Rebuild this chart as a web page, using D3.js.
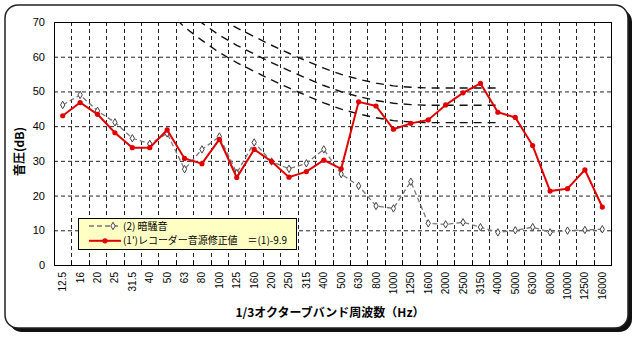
<!DOCTYPE html>
<html>
<head>
<meta charset="utf-8">
<script src="https://cdn.jsdelivr.net/npm/d3@7"></script>
<style>
  html, body { margin: 0; padding: 0; background: #fff; }
  svg { display: block; }
</style>
</head>
<body>
<svg id="chart" width="640" height="339"></svg>
<script>
// 1/3 octave band centre frequencies (Hz)
const bands = ["12.5","16","20","25","31.5","40","50","63","80","100","125","160","200","250","315","400","500","630","800","1000","1250","1600","2000","2500","3150","4000","5000","6300","8000","10000","12500","16000"];

// (2) background noise, dB
const backgroundNoise = [46.1,49.0,44.4,41.1,36.5,34.9,37.9,27.6,33.3,37.0,26.5,35.3,29.8,27.7,29.3,33.3,26.2,22.8,17.0,16.3,24.0,12.0,11.7,12.3,10.9,9.4,10.0,10.9,9.4,9.9,10.1,10.3];

// (1') recorder source, corrected = (1) - 9.9, dB
const recorderCorrected = [43.0,46.8,43.4,38.1,33.8,33.8,38.9,30.7,29.2,36.2,25.2,33.3,29.8,25.3,26.9,30.2,27.7,47.0,45.8,39.1,40.8,41.8,46.1,49.6,52.3,44.0,42.5,34.4,21.3,22.0,27.4,16.7];

// reference rating curves (dashed), 50 Hz - 4000 Hz
const curveBands = ["50","63","80","100","125","160","200","250","315","400","500","630","800","1000","1250","1600","2000","2500","3150","4000"];
const curveLow  = [73.5,68.5,64.7,61.2,58.3,55.8,53.3,51.0,48.8,46.7,44.9,43.5,42.4,41.6,41.2,41.0,41.0,41.0,41.0,41.0];
const curveMid  = [78.5,73.5,69.7,66.2,63.3,60.8,58.3,56.0,53.8,51.7,49.9,48.5,47.4,46.6,46.2,46.0,46.0,46.0,46.0,46.0];
const curveHigh = [83.5,78.5,74.7,71.2,68.3,65.8,63.3,61.0,58.8,56.7,54.9,53.5,52.4,51.6,51.2,51.0,51.0,51.0,51.0,51.0];

const yTicks = [0,10,20,30,40,50,60,70];

const legendItems = [
  { label: "(2) 暗騒音", kind: "noise", width: null },
  { label: "(1')レコーダー音源修正値　＝(1)-9.9", kind: "recorder", width: 164 }
];

const svg = d3.select("#chart");
const plot = { left: 54, right: 611, top: 22, bottom: 265 };

// outer rounded frame with drop shadow
svg.append("rect").attr("x", 9).attr("y", 9).attr("width", 623).attr("height", 323)
  .attr("rx", 13).attr("fill", "#111");
svg.append("rect").attr("x", 5).attr("y", 5).attr("width", 623).attr("height", 323)
  .attr("rx", 13).attr("fill", "#fff").attr("stroke", "#222").attr("stroke-width", 1.5);

const x = d3.scaleBand().domain(bands).range([plot.left, plot.right]).padding(0);
const y = d3.scaleLinear().domain([0, 70]).range([plot.bottom, plot.top]);
const cx = b => x(b) + x.bandwidth() / 2;

svg.append("defs").append("clipPath").attr("id", "plotClip")
  .append("rect").attr("x", plot.left).attr("y", plot.top)
  .attr("width", plot.right - plot.left).attr("height", plot.bottom - plot.top);

// gridlines
const grid = svg.append("g").attr("stroke", "#222").attr("stroke-width", 1).attr("stroke-dasharray", "4,3");
grid.selectAll("line.h").data(yTicks.slice(1, -1)).join("line")
  .attr("x1", plot.left).attr("x2", plot.right)
  .attr("y1", d => y(d) + 0.5).attr("y2", d => y(d) + 0.5);
grid.selectAll("line.v").data(bands.slice(1)).join("line")
  .attr("x1", d => Math.round(x(d)) + 0.5).attr("x2", d => Math.round(x(d)) + 0.5)
  .attr("y1", plot.top).attr("y2", plot.bottom);

// plot border
svg.append("rect").attr("x", plot.left + 0.5).attr("y", plot.top + 0.5)
  .attr("width", plot.right - plot.left).attr("height", plot.bottom - plot.top)
  .attr("fill", "none").attr("stroke", "#000").attr("stroke-width", 1);

// y axis
const yAxis = d3.axisLeft(y).tickValues(yTicks).tickSize(0).tickPadding(9);
const yg = svg.append("g").attr("transform", `translate(${plot.left},0)`).call(yAxis);
yg.select(".domain").remove();
yg.selectAll("text").attr("font-family", "Liberation Sans, Arial, sans-serif")
  .attr("font-size", 11).attr("fill", "#000");

// x axis
const xAxis = d3.axisBottom(x).tickSize(0).tickPadding(0);
const xg = svg.append("g").attr("transform", `translate(0,${plot.bottom})`).call(xAxis);
xg.select(".domain").remove();
xg.selectAll(".tick text")
  .attr("font-family", "Liberation Sans, Arial, sans-serif").attr("font-size", 10).attr("fill", "#000")
  .attr("transform", "rotate(-90)").attr("text-anchor", "end")
  .attr("x", -7).attr("y", 0).attr("dy", "0.35em");
// small inward tick marks on band edges
svg.append("g").selectAll("line").data(bands.slice(1)).join("line")
  .attr("x1", d => Math.round(x(d)) + 0.5).attr("x2", d => Math.round(x(d)) + 0.5)
  .attr("y1", plot.bottom).attr("y2", plot.bottom - 4)
  .attr("stroke", "#000").attr("stroke-width", 1);

// axis titles
svg.append("text").attr("transform", `translate(24,${(plot.top + plot.bottom) / 2 + 8}) rotate(-90)`)
  .attr("text-anchor", "middle").attr("font-family", "Noto Sans CJK JP, sans-serif")
  .attr("font-size", 12).attr("font-weight", "bold").text("音圧(dB)");
svg.append("text").attr("x", 330).attr("y", 317)
  .attr("text-anchor", "middle").attr("font-family", "Noto Sans CJK JP, sans-serif")
  .attr("font-size", 12).attr("font-weight", "bold").text("1/3オクターブバンド周波数（Hz）");

// rating curves
const curves = svg.append("g").attr("clip-path", "url(#plotClip)");
const curveLine = d3.line().x((d, i) => cx(curveBands[i])).y(d => y(d));
[curveLow, curveMid, curveHigh].forEach(c => {
  curves.append("path").datum(c).attr("d", curveLine)
    .attr("fill", "none").attr("stroke", "#111").attr("stroke-width", 1.4)
    .attr("stroke-dasharray", "8,6");
});

const seriesLine = d3.line().x((d, i) => cx(bands[i])).y(d => y(d));

// background noise series
svg.append("path").datum(backgroundNoise).attr("d", seriesLine)
  .attr("fill", "none").attr("stroke", "#777").attr("stroke-width", 1.3)
  .attr("stroke-dasharray", "5,3");
const diamond = d3.symbol().type(d3.symbolDiamond).size(16);
svg.append("g").selectAll("path").data(backgroundNoise).join("path")
  .attr("d", diamond).attr("transform", (d, i) => `translate(${cx(bands[i])},${y(d)})`)
  .attr("fill", "#fff").attr("stroke", "#444").attr("stroke-width", 1);

// corrected recorder series
svg.append("path").datum(recorderCorrected).attr("d", seriesLine)
  .attr("fill", "none").attr("stroke", "#e00000").attr("stroke-width", 2);
svg.append("g").selectAll("circle").data(recorderCorrected).join("circle")
  .attr("cx", (d, i) => cx(bands[i])).attr("cy", d => y(d)).attr("r", 2.6)
  .attr("fill", "#e00000");

// legend
const lg = svg.append("g");
lg.append("rect").attr("x", 78.5).attr("y", 218.5).attr("width", 218).attr("height", 31)
  .attr("fill", "#ffffc4").attr("stroke", "#000").attr("stroke-width", 1);
legendItems.forEach((it, i) => {
  const ly = 226 + i * 14.8;
  const row = lg.append("g");
  if (it.kind === "noise") {
    row.append("line").attr("x1", 89).attr("x2", 121).attr("y1", ly).attr("y2", ly)
      .attr("stroke", "#777").attr("stroke-width", 1.3).attr("stroke-dasharray", "5,3");
    row.append("path").attr("d", diamond).attr("transform", `translate(113,${ly})`)
      .attr("fill", "#fff").attr("stroke", "#444");
  } else {
    row.append("line").attr("x1", 89).attr("x2", 121).attr("y1", ly).attr("y2", ly)
      .attr("stroke", "#e00000").attr("stroke-width", 2);
    row.append("circle").attr("cx", 105).attr("cy", ly).attr("r", 2.6).attr("fill", "#e00000");
  }
  const t = row.append("text").attr("x", 123).attr("y", ly).attr("dy", "0.36em")
    .attr("font-family", "Noto Sans CJK JP, sans-serif").attr("font-size", 10)
    .attr("fill", "#000").text(it.label);
  if (it.width) t.attr("textLength", it.width).attr("lengthAdjust", "spacing");
});
</script>
</body>
</html>
